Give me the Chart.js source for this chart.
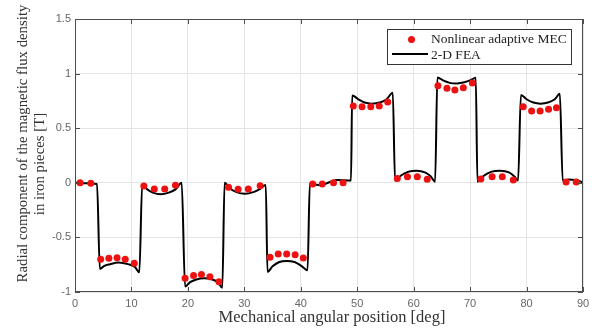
<!DOCTYPE html>
<html>
<head>
<meta charset="utf-8">
<script src="https://cdn.jsdelivr.net/npm/chart.js@4/dist/chart.umd.min.js"></script>
<style>
  html, body { margin: 0; padding: 0; background: #fff; }
  #wrap { width: 596px; height: 331px; position: relative; }
</style>
</head>
<body>
<div id="wrap"><canvas id="chart"></canvas></div>
<script>
// 2-D FEA curve (angle in deg, radial flux density in T)
const feaAngle = [
    0, 2, 3.9, 4.4, 5.2, 6.2, 7.7, 9.4, 10.6, 11.4,
    11.9, 12.8, 13.8, 15.2, 16.6, 17.8, 18.9,
    19.5, 20.4, 21.5, 22.9, 24.3, 25.3, 26.1,
    26.5, 27.4, 28.6, 30.1, 31.6, 32.8, 33.8,
    34.1, 35.0, 36.2, 37.5, 38.9, 40.1, 41.2,
    41.6, 43.5, 46.4, 48.9,
    49.1, 50.2, 51.3, 52.6, 54.0, 55.2, 56.3,
    56.7, 57.7, 59.0, 60.5, 62.0, 63.0, 63.8,
    64.2, 65.3, 66.4, 67.7, 69.0, 70.1, 71.0,
    71.3, 72.3, 73.7, 75.3, 76.9, 77.9, 78.5,
    79.0, 80.0, 81.2, 82.5, 83.8, 85.0, 85.9,
    86.4, 87.5, 88.6, 90
];
const feaB = [
    0, -0.005, -0.01, -0.79, -0.76, -0.745, -0.73, -0.745, -0.77, -0.82,
    -0.02, -0.06, -0.09, -0.105, -0.09, -0.06, 0,
    -0.95, -0.91, -0.885, -0.875, -0.885, -0.91, -0.96,
    0, -0.05, -0.085, -0.1, -0.085, -0.055, -0.02,
    -0.815, -0.765, -0.725, -0.715, -0.725, -0.76, -0.80,
    -0.01, -0.02, 0.025, 0.02,
    0.80, 0.765, 0.735, 0.725, 0.735, 0.765, 0.825,
    0.02, 0.065, 0.1, 0.11, 0.095, 0.06, 0.01,
    0.965, 0.935, 0.915, 0.91, 0.92, 0.94, 0.962,
    0.01, 0.06, 0.1, 0.11, 0.095, 0.055, 0.02,
    0.805, 0.765, 0.735, 0.725, 0.735, 0.765, 0.815,
    0.02, 0.03, 0.025, 0.005
];

// Nonlinear adaptive MEC samples
const mecAngle = [
    0.9, 2.8,
    4.55, 6.0, 7.45, 8.9, 10.5,
    12.2, 14.05, 15.9, 17.8,
    19.5, 21.0, 22.4, 23.9, 25.5,
    27.2, 28.9, 30.7, 32.8,
    34.55, 36.0, 37.5, 39.0, 40.45,
    42.1, 43.8, 45.8, 47.5,
    49.3, 50.85, 52.4, 53.9, 55.4,
    57.1, 58.9, 60.65, 62.4,
    64.3, 65.9, 67.3, 68.8, 70.4,
    71.9, 73.9, 75.7, 77.65,
    79.4, 80.9, 82.4, 83.9, 85.3,
    87.0, 88.8
];
const mecB = [
    0, -0.005,
    -0.70, -0.69, -0.686, -0.70, -0.737,
    -0.03, -0.057, -0.057, -0.023,
    -0.875, -0.85, -0.84, -0.86, -0.905,
    -0.04, -0.06, -0.057, -0.027,
    -0.682, -0.652, -0.652, -0.66, -0.688,
    -0.01, -0.01, 0, 0,
    0.703, 0.697, 0.697, 0.703, 0.74,
    0.04, 0.056, 0.056, 0.032,
    0.889, 0.865, 0.85, 0.871, 0.914,
    0.035, 0.056, 0.056, 0.026,
    0.697, 0.657, 0.657, 0.673, 0.688,
    0.007, 0.007
];

const xTicks = [0, 10, 20, 30, 40, 50, 60, 70, 80, 90];
const yTicks = [-1, -0.5, 0, 0.5, 1, 1.5];

const serif = '"Liberation Serif", "DejaVu Serif", serif';
const sans = '"Liberation Sans", Arial, sans-serif';

// frame, inner ticks, legend and axis titles
const decorPlugin = {
    id: 'decor',
    afterDraw(chart) {
        const { ctx, chartArea: a, scales } = chart;
        ctx.save();

        // box around plot
        ctx.strokeStyle = '#4d4d4d';
        ctx.lineWidth = 1;
        ctx.strokeRect(a.left + 0.5, a.top + 0.5, a.right - a.left - 1, a.bottom - a.top - 1);

        // matlab style inner ticks
        ctx.beginPath();
        xTicks.forEach(v => {
            const px = Math.round(scales.x.getPixelForValue(v)) + 0.5;
            ctx.moveTo(px, a.top); ctx.lineTo(px, a.top + 5);
            ctx.moveTo(px, a.bottom); ctx.lineTo(px, a.bottom - 5);
        });
        yTicks.forEach(v => {
            const py = Math.round(scales.y.getPixelForValue(v)) + 0.5;
            ctx.moveTo(a.left, py); ctx.lineTo(a.left + 5, py);
            ctx.moveTo(a.right, py); ctx.lineTo(a.right - 5, py);
        });
        ctx.stroke();

        // legend
        const lx = 387, ly = 29, lw = 184, lh = 35;
        ctx.fillStyle = '#fff';
        ctx.fillRect(lx, ly, lw, lh);
        ctx.strokeStyle = '#333';
        ctx.strokeRect(lx + 0.5, ly + 0.5, lw, lh);
        ctx.fillStyle = '#ee1111';
        ctx.beginPath();
        ctx.arc(411.5, 39.5, 3.5, 0, Math.PI * 2);
        ctx.fill();
        ctx.strokeStyle = '#000';
        ctx.lineWidth = 2;
        ctx.beginPath();
        ctx.moveTo(392, 54); ctx.lineTo(428, 54);
        ctx.stroke();
        ctx.fillStyle = '#222';
        ctx.font = '13.5px ' + serif;
        ctx.textBaseline = 'middle';
        ctx.textAlign = 'left';
        ctx.fillText('Nonlinear adaptive MEC', 431, 39);
        ctx.fillText('2-D FEA', 431, 55);

        // axis titles
        ctx.fillStyle = '#333';
        ctx.textAlign = 'center';
        ctx.font = '16.5px ' + serif;
        ctx.fillText('Mechanical angular position [deg]', 332, 318);
        ctx.font = '14.8px ' + serif;
        ctx.rotate(-Math.PI / 2);
        ctx.fillText('Radial component of the magnetic flux density', -143.5, 23);
        ctx.fillText('in iron pieces [T]', -164, 40);
        ctx.restore();
    }
};

new Chart(document.getElementById('chart'), {
    type: 'scatter',
    data: {
        datasets: [
            {
                label: 'Nonlinear adaptive MEC',
                data: mecAngle.map((x, i) => ({ x, y: mecB[i] })),
                backgroundColor: '#ee1111',
                borderWidth: 0,
                pointRadius: 3.5,
                order: 0
            },
            {
                label: '2-D FEA',
                type: 'line',
                data: feaAngle.map((x, i) => ({ x, y: feaB[i] })),
                borderColor: '#000',
                borderWidth: 2,
                pointRadius: 0,
                cubicInterpolationMode: 'monotone',
                fill: false,
                order: 1
            }
        ]
    },
    options: {
        responsive: true,
        maintainAspectRatio: false,
        animation: false,
        layout: { padding: { left: 0, right: 13, top: 19, bottom: 0 } },
        plugins: {
            legend: { display: false },
            tooltip: { enabled: false }
        },
        scales: {
            x: {
                type: 'linear',
                min: 0, max: 90,
                afterFit: s => { s.height = 39; },
                afterBuildTicks: s => { s.ticks = xTicks.map(v => ({ value: v })); },
                grid: { color: '#e4e4e4', drawTicks: false },
                border: { display: false },
                ticks: { color: '#666', font: { family: sans, size: 11 }, padding: 5, callback: v => String(v) }
            },
            y: {
                type: 'linear',
                min: -1, max: 1.5,
                afterFit: s => { s.width = 75; },
                afterBuildTicks: s => { s.ticks = yTicks.map(v => ({ value: v })); },
                grid: { color: '#e4e4e4', drawTicks: false },
                border: { display: false },
                ticks: { color: '#666', font: { family: sans, size: 11 }, padding: 4, callback: v => String(v) }
            }
        }
    },
    plugins: [decorPlugin]
});
</script>
</body>
</html>
